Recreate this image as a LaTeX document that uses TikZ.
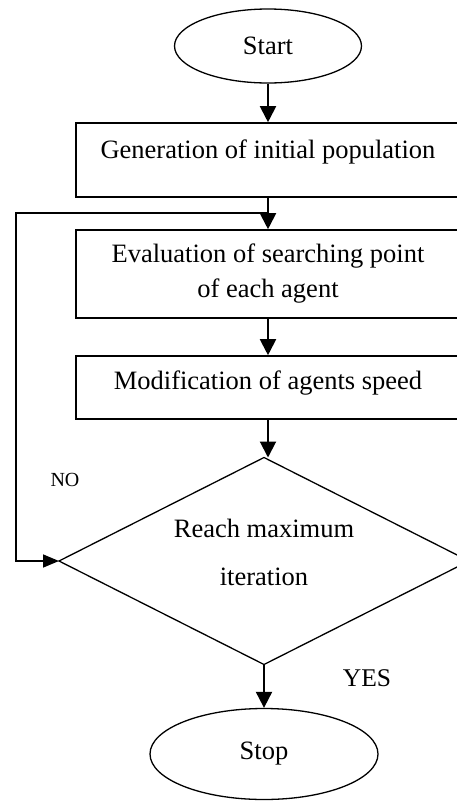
\documentclass[tikz,border=0pt]{standalone}
\usepackage{fontspec}
\setmainfont{Liberation Serif}
\usetikzlibrary{shapes.geometric,arrows.meta}
\begin{document}
\begin{tikzpicture}[x=1pt,y=-1pt,
  txt/.style={font=\fontsize{26.5}{35}\selectfont},
  term/.style={draw,ellipse,line width=1.3pt,inner sep=0pt,txt},
  procbox/.style={draw,rectangle,line width=1.6pt,minimum width=384pt,inner sep=0pt,txt,align=center},
  decide/.style={draw,diamond,aspect=2,line width=1.3pt,inner sep=0pt,outer sep=0pt,minimum width=410pt,minimum height=207pt},
  arr/.style={line width=2pt,-{Triangle[length=16pt,width=16pt]}},
  looparr/.style={line width=1.6pt,-{Triangle[length=16pt,width=13pt]}}
]
\useasboundingbox (0,0) rectangle (456,801);
\node[term,minimum width=187pt,minimum height=74pt] (start) at (268,46) {Start};
\node[procbox,minimum height=74pt,text height=18pt,text depth=21pt] (gen) at (268,160) {Generation of initial population};
\node[procbox,minimum height=88pt] (eval) at (268,274) {Evaluation of searching point\\of each agent};
\node[procbox,minimum height=63pt,text height=18pt,text depth=15pt] (mod) at (268,387.5) {Modification of agents speed};
\node[decide,label={[name=dectext,align=center,font=\fontsize{26.5}{48}\selectfont,yshift=9pt]center:Reach maximum\\iteration}] (dec) at (264,561) {};
\node[term,minimum width=228pt,minimum height=91pt] (stop) at (264,754) {Stop};
\node[font=\fontsize{20}{24}\selectfont] (no) at (65,480) {NO};
\node[font=\fontsize{25.5}{30}\selectfont] (yes) at (367,678) {YES};
\coordinate (j) at (268,213);
\draw[arr] (start.south -| gen.north) -- (gen.north);
\draw[arr] (gen.south) -- (eval.north);
\draw[arr] (eval.south) -- (mod.north);
\draw[arr] (mod.south) -- (mod.south |- dec.north);
\draw[arr] (dec.south -| stop.north) -- (stop.north);
\draw[looparr] (j) -- (16,213) -- (16,561) -- (dec.west);
\end{tikzpicture}
\end{document}
